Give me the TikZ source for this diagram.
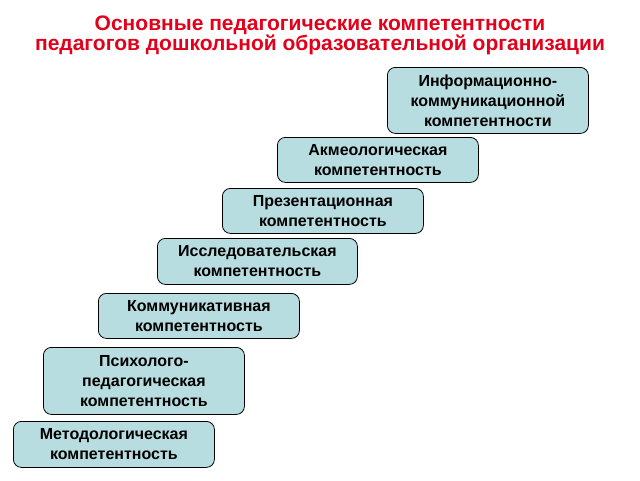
\documentclass[tikz,border=0pt]{standalone}
\usepackage{fontspec}
\setmainfont{Liberation Sans}
\begin{document}
\begin{tikzpicture}[x=1pt,y=-1pt,
  box/.style={draw=black,fill={rgb,255:red,183;green,221;blue,224},rounded corners=8pt,line width=0.8pt,align=center,font=\fontsize{16}{20}\selectfont\bfseries,inner sep=0pt,anchor=north west}]
\useasboundingbox (0,0) rectangle (640,480);
\node[text={rgb,255:red,226;green,0;blue,26},font=\fontsize{21}{20}\selectfont\bfseries,align=center] (title) at (320,35) {Основные педагогические компетентности\\педагогов дошкольной образовательной организации};
\node[box,minimum width=201pt,minimum height=46pt] (b1) at (13,421) {Методологическая\\компетентность};
\node[box,minimum width=201pt,minimum height=67pt] (b2) at (43,347) {Психолого-\\педагогическая\\компетентность};
\node[box,minimum width=201pt,minimum height=45pt] (b3) at (98,293) {Коммуникативная\\компетентность};
\node[box,minimum width=200pt,minimum height=46pt] (b4) at (157,238) {Исследовательская\\компетентность};
\node[box,minimum width=201pt,minimum height=45pt] (b5) at (222,188) {Презентационная\\компетентность};
\node[box,minimum width=201pt,minimum height=45pt] (b6) at (277,137) {Акмеологическая\\компетентность};
\node[box,minimum width=201pt,minimum height=66pt] (b7) at (387,67) {Информационно-\\коммуникационной\\компетентности};
\end{tikzpicture}
\end{document}
